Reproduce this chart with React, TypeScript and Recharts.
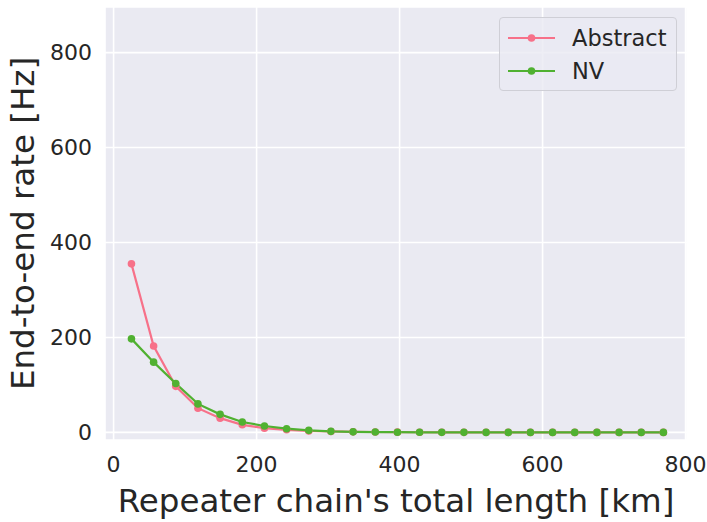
import { LineChart, Line, XAxis, YAxis, CartesianGrid, Label } from "recharts";

const lengthKm = [25, 56, 87, 118, 149, 180, 211, 242, 273, 304, 335, 366, 397, 428, 459, 490, 521, 552, 583, 614, 645, 676, 707, 738, 769];
const abstractRate = [355, 182, 97, 51, 30, 16, 9, 5.5, 3, 2, 1.2, 0.8, 0.5, 0.3, 0.2, 0.15, 0.1, 0.07, 0.05, 0.03, 0.02, 0.015, 0.01, 0.008, 0.005];
const nvRate = [197, 148, 103, 60, 38, 22, 13.5, 7.8, 4.3, 2.2, 1.2, 0.7, 0.4, 0.25, 0.15, 0.1, 0.06, 0.04, 0.03, 0.02, 0.012, 0.008, 0.005, 0.003, 0.002];
const xTicks = [0, 200, 400, 600, 800];
const yTicks = [0, 200, 400, 600, 800];

const rows = lengthKm.map((x, i) => ({ x, abstract: abstractRate[i], nv: nvRate[i] }));

const pink = "#f77189";
const green = "#50b131";
const ink = "#262626";
const font = "'DejaVu Sans', sans-serif";

const series = [
  { name: "Abstract", color: pink },
  { name: "NV", color: green },
];

function LegendBox() {
  return (
    <div
      style={{
        position: "absolute",
        left: 499,
        top: 17,
        width: 178,
        height: 74,
        boxSizing: "border-box",
        border: "1px solid #cfcfd6",
        borderRadius: 4,
        background: "rgba(234,234,242,0.8)",
        fontFamily: font,
        fontSize: 22.5,
        color: ink,
        paddingTop: 3,
      }}
    >
      {series.map((it) => (
        <div key={it.name} style={{ display: "flex", alignItems: "center", height: 33 }}>
          <svg width={66} height={20} style={{ marginLeft: 6 }}>
            <line x1={2} y1={10} x2={49} y2={10} stroke={it.color} strokeWidth={2.2} />
            <circle cx={25.5} cy={10} r={3.8} fill={it.color} />
          </svg>
          <span style={{ lineHeight: "26px" }}>{it.name}</span>
        </div>
      ))}
    </div>
  );
}

function YLabel(props: any) {
  const vb = props.viewBox || { x: 0, y: 0, height: 0 };
  const cy = vb.y + vb.height / 2;
  const cx = 23;
  return (
    <text
      x={cx}
      y={cy}
      transform={`rotate(-90 ${cx} ${cy})`}
      textAnchor="middle"
      dominantBaseline="central"
      style={{ fontSize: 32.5, fill: ink, fontFamily: font }}
    >
      End-to-end rate [Hz]
    </text>
  );
}

export default function App() {
  return (
    <div style={{ position: "absolute", left: 0, top: 0, width: 707, height: 522, background: "#fff" }}>
      <LineChart width={707} height={522} data={rows} margin={{ top: 7, right: 20, left: 0, bottom: 0 }}>
        <CartesianGrid fill="#eaeaf2" stroke="#ffffff" strokeWidth={1.6} />
        <XAxis
          dataKey="x"
          type="number"
          domain={[-12, 802]}
          ticks={xTicks}
          allowDataOverflow
          axisLine={false}
          tickLine={false}
          height={82}
          tickMargin={10}
          tick={{ fontSize: 22, fill: ink, fontFamily: font }}
        >
          <Label
            value="Repeater chain's total length [km]"
            position="insideBottom"
            offset={10}
            style={{ fontSize: 32.5, fill: ink, fontFamily: font }}
          />
        </XAxis>
        <YAxis
          type="number"
          domain={[-16, 896]}
          ticks={yTicks}
          allowDataOverflow
          axisLine={false}
          tickLine={false}
          width={105}
          tickMargin={7}
          tick={{ fontSize: 22, fill: ink, fontFamily: font }}
        >
          <Label content={YLabel} />
        </YAxis>
        <Line
          dataKey="abstract"
          name="Abstract"
          stroke={pink}
          strokeWidth={2.2}
          dot={{ r: 3.8, fill: pink, stroke: pink, strokeWidth: 0 }}
          isAnimationActive={false}
        />
        <Line
          dataKey="nv"
          name="NV"
          stroke={green}
          strokeWidth={2.2}
          dot={{ r: 3.8, fill: green, stroke: green, strokeWidth: 0 }}
          isAnimationActive={false}
        />
      </LineChart>
      <LegendBox />
    </div>
  );
}
